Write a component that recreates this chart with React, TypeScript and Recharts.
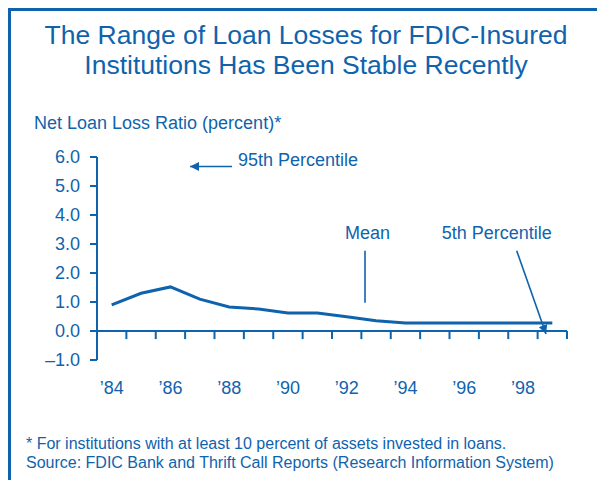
import React from "react";
import { LineChart, Line, XAxis, YAxis, ReferenceLine } from "recharts";

const years = [1984, 1985, 1986, 1987, 1988, 1989, 1990, 1991, 1992, 1993, 1994, 1995, 1996, 1997, 1998, 1999];
const meanRatio = [0.9, 1.3, 1.52, 1.1, 0.83, 0.76, 0.62, 0.62, 0.49, 0.35, 0.28, 0.28, 0.28, 0.28, 0.28, 0.28];
const yTicks = [-1, 0, 1, 2, 3, 4, 5, 6];
const xLabelYears = [1984, 1986, 1988, 1990, 1992, 1994, 1996, 1998];
const tickBoundaries = [1984.5, 1985.5, 1986.5, 1987.5, 1988.5, 1989.5, 1990.5, 1991.5, 1992.5, 1993.5, 1994.5, 1995.5, 1996.5, 1997.5, 1998.5, 1999.5];

const titleLines = ["The Range of Loan Losses for FDIC-Insured", "Institutions Has Been Stable Recently"];
const yLabel = "Net Loan Loss Ratio (percent)*";
const footnotes = [
  "* For institutions with at least 10 percent of assets invested in loans.",
  "Source: FDIC Bank and Thrift Call Reports (Research Information System)",
];

const data = years.map((y, i) => ({ year: y, mean: meanRatio[i] }));

const BLUE = "#0f63ad";
const FONT = "'Liberation Sans', Arial, Helvetica, sans-serif";

const fmtY = (v: number) => (v < 0 ? "\u2013" + Math.abs(v).toFixed(1) : v.toFixed(1));
const fmtX = (v: number) => "\u2019" + String(v).slice(2);

export default function App() {
  return (
    <div style={{ position: "absolute", left: 0, top: 0, width: 597, height: 480, background: "#fff" }}>
      <LineChart
        width={597}
        height={480}
        data={data}
        margin={{ top: 157, right: 30, bottom: 80, left: 0 }}
        style={{ fontFamily: FONT }}
      >
        <defs>
          <marker id="arrowHead" viewBox="0 0 10 10" refX="10" refY="5" markerWidth="9" markerHeight="9" markerUnits="userSpaceOnUse" orient="auto">
            <path d="M0,0 L10,5 L0,10 z" fill={BLUE} />
          </marker>
        </defs>
        <XAxis
          dataKey="year"
          type="number"
          domain={[1983.5, 1999.5]}
          ticks={xLabelYears}
          tickFormatter={fmtX}
          axisLine={false}
          tickLine={false}
          tickSize={0}
          tickMargin={21}
          height={40}
          tick={{ fill: BLUE, fontSize: 18, fontFamily: FONT }}
          allowDataOverflow
        />
        <YAxis
          type="number"
          domain={[-1, 6]}
          ticks={yTicks}
          tickFormatter={fmtY}
          width={97}
          axisLine={{ stroke: BLUE, strokeWidth: 2 }}
          tickLine={{ stroke: BLUE, strokeWidth: 2 }}
          tickSize={7}
          tickMargin={10}
          tick={{ fill: BLUE, fontSize: 18, fontFamily: FONT }}
          interval={0}
        />
        <ReferenceLine y={0} stroke={BLUE} strokeWidth={2} />
        {tickBoundaries.map((b) => (
          <ReferenceLine
            key={b}
            segment={[{ x: b, y: 0 }, { x: b, y: -0.28 }]}
            stroke={BLUE}
            strokeWidth={2}
          />
        ))}
        <Line
          type="linear"
          dataKey="mean"
          stroke={BLUE}
          strokeWidth={3}
          dot={false}
          isAnimationActive={false}
        />
        {/* frame */}
        <line x1={8} y1={9.5} x2={597} y2={9.5} stroke={BLUE} strokeWidth={3} />
        <line x1={9.5} y1={8} x2={9.5} y2={480} stroke={BLUE} strokeWidth={3} />
        {/* title */}
        {titleLines.map((t, i) => (
          <text key={t} x={306} y={44.3 + i * 30} textAnchor="middle" fill={BLUE} fontSize={26.5} fontFamily={FONT}>
            {t}
          </text>
        ))}
        <text x={34} y={129} fill={BLUE} fontSize={18} fontFamily={FONT}>
          {yLabel}
        </text>
        {/* annotations */}
        <text x={238} y={166} fill={BLUE} fontSize={18} fontFamily={FONT}>95th Percentile</text>
        <line x1={232} y1={166.5} x2={190} y2={166.5} stroke={BLUE} strokeWidth={1.6} markerEnd="url(#arrowHead)" />
        <text x={345} y={239} fill={BLUE} fontSize={18} fontFamily={FONT}>Mean</text>
        <line x1={365} y1={250.7} x2={365} y2={302.7} stroke={BLUE} strokeWidth={1.6} />
        <text x={441.7} y={239} fill={BLUE} fontSize={18} fontFamily={FONT}>5th Percentile</text>
        <line x1={516.7} y1={250.7} x2={546} y2={334} stroke={BLUE} strokeWidth={1.6} markerEnd="url(#arrowHead)" />
        {/* footnotes */}
        {footnotes.map((f, i) => (
          <text key={f} x={26} y={449 + i * 19} fill={BLUE} fontSize={16} fontFamily={FONT}>
            {f}
          </text>
        ))}
      </LineChart>
    </div>
  );
}
